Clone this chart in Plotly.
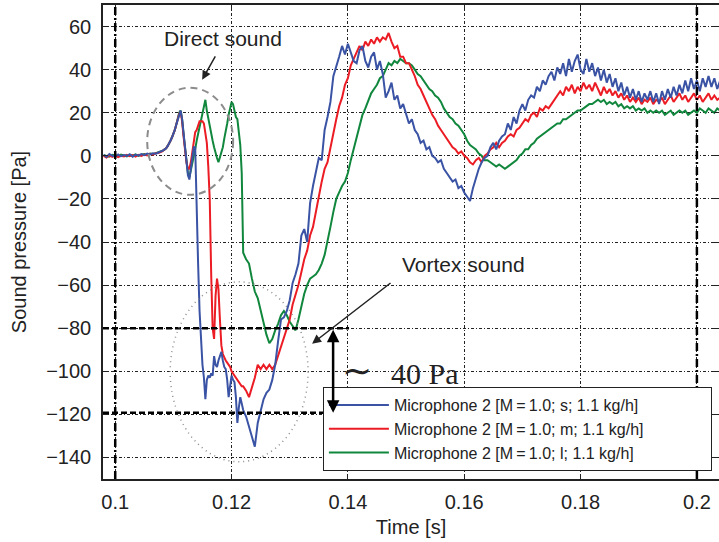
import numpy as np
import plotly.graph_objects as go

# ---------------- data (time in ms on three sampling segments) ----------------
seg_a_ms = np.arange(98.0, 108.0, 0.5)      # 20 samples
seg_b_ms = np.arange(108.0, 122.0, 0.25)    # 56 samples
seg_c_ms = np.arange(122.0, 204.25, 0.5)    # 165 samples
time_s = np.concatenate([seg_a_ms, seg_b_ms, seg_c_ms]) / 1000.0

blue_s = [
    0.5, -0.5, 0.8, 0, -0.3, 0.6, -0.2, 0.4, 0, 0.7,
    -0.4, 0.5, 0.2, 0.8, 0.3, 1.0, 0.6, 1.2, 1.0, 1.6,
    # 108 .. 121.75 (0.25 ms)
    2, 2.5, 3, 3.5, 4.5, 5.5, 7, 8.5,
    10, 12, 14.5, 17, 19.5, 21, 17, 10,
    3, -4, -9, -11, -6, 0, 4, 4,
    -30, -50, -72, -85, -97, -103, -113, -104,
    -102, -103, -101, -102, -93, -97, -98, -95,
    -93, -91, -95, -98, -99, -104, -112, -106,
    -102, -104, -105, -112, -124, -117, -112, -115,
    # 122 .. 204 (0.5 ms)
    -118, -121, -126, -131, -135, -124, -118, -113, -110, -108.5,
    -104, -97, -86, -76, -75, -72, -67, -59, -55, -50,
    -37, -34, -40, -22, -14, -8, -1, -2, 12, 18,
    25, 37, 41, 46, 51, 47, 52, 48, 44, 43,
    49, 51, 44, 41, 46, 48, 40, 44, 38, 27,
    30, 34, 26, 28, 22, 24, 19, 15, 17, 12,
    10, 6, 7, 3, 4, 0, -1, -3, -2, -6,
    -8, -10, -12, -11, -15, -14, -17, -19, -21, -15,
    -10, -6, -3, -1, 0, 4, 6, 3, 7, 9,
    10, 15, 12, 18, 15, 21, 24, 21, 26, 28,
    27, 32, 30, 35, 33, 37, 39, 35, 41, 38,
    43, 37, 45, 39, 44, 47, 40, 38, 45, 39,
    43, 37, 41, 35, 40, 34, 38, 32, 36, 30,
    34, 28, 32, 27, 31, 26, 30, 25, 29, 26,
    30, 25, 29, 24, 30, 26, 31, 27, 32, 28,
    33, 29, 35, 30, 36, 31, 35, 30, 36, 32,
    37, 32, 36, 31, 35,
]

red_m = [
    0, -0.8, 0.2, -0.5, 0.3, -0.6, 0, -0.3, 0.4, -0.2,
    0.3, -0.4, 0.5, 0, 0.6, 0.2, 0.9, 0.5, 1.2, 1.4,
    # 108 .. 121.75
    2, 2.5, 3, 3.5, 4.5, 5.5, 7, 8.5,
    10, 12, 14.5, 17, 19.5, 20.5, 16, 9,
    2, -3, -6, -6, -3, 2, 7, 11,
    12, 14, 16, 16, 16, 15, 11, 6,
    -5, -20, -55, -80, -85, -65, -57, -62,
    -76, -88, -92, -94, -95, -96, -97, -98,
    -100, -101, -102, -103, -104, -105, -106, -107,
    # 122 .. 204
    -107, -109, -112, -108, -103, -97, -99, -97, -99, -97,
    -99, -97, -93, -88, -84, -80, -76, -69, -65, -60,
    -54, -48, -44, -37, -33, -25, -19, -12, -6, -3,
    4, 10, 17, 23, 27, 33, 36, 42, 45, 48,
    51, 49, 53, 51, 54, 52, 55, 53, 55, 54,
    57, 53, 50, 51, 46, 46, 43, 43, 40, 37,
    33, 31, 28, 25, 22, 19, 17, 14, 12, 10,
    8, 6, 4, 3, 1, 2, 0, -1, -3, -4,
    -2, -1, -3, 0, 1, 3, 4, 6, 4, 6,
    7, 9, 10, 9, 12, 13, 15, 17, 16, 19,
    20, 18, 22, 21, 23, 22, 24, 26, 28, 30,
    28, 32, 30, 33, 29, 32, 30, 34, 31, 33,
    30, 34, 31, 28, 32, 29, 31, 28, 30, 27,
    29, 26, 28, 25, 27, 25, 27, 24, 26, 25,
    27, 24, 26, 25, 27, 24, 26, 28, 25, 27,
    29, 26, 28, 25, 27, 29, 26, 28, 25, 27,
    29, 26, 28, 26, 27,
]

green_l = [
    0.3, 0, -0.4, 0.5, 0.1, -0.2, 0.6, 0, -0.3, 0.4,
    0.1, 0.7, 0, 0.5, 0.8, 0.4, 1.1, 0.8, 1.3, 1.8,
    # 108 .. 121.75
    2, 2.5, 3, 3.5, 4.5, 5.5, 7, 8.5,
    10, 12, 14.5, 17, 20, 21, 17, 10,
    3, -3, -8, -10, -7, -4, 0, 3,
    7, 10, 13, 17, 20, 23, 26, 21,
    17, 13, 10, 7, 4, 1, -1, -3,
    -1, 1, 4, 8, 11, 15, 19, 22,
    25, 24, 20, 18, 17, 12, 5, -8,
    # 122 .. 204
    -45, -48, -50, -57, -63, -66, -72, -78, -83, -87,
    -85, -81, -78, -74, -72, -74, -77, -79, -81, -76,
    -70, -64, -60, -57, -56, -55, -53, -50, -46, -40,
    -33, -26, -20, -17, -14, -12, -8, -2, 3, 9,
    14, 19, 22, 26, 29, 31, 33, 36, 37, 40,
    43, 42, 44, 43, 45, 44, 43, 43, 42, 40,
    38, 37, 35, 33, 31, 30, 28, 27, 25, 22,
    20, 18, 17, 15, 14, 12, 10, 7, 5, 4,
    3, 1, 0, -2, -2, -3, -4, -5, -4, -5,
    -6, -5, -4, -3, -2, 0, 1, 3, 3, 5,
    6, 8, 9, 10, 11, 12, 13, 14, 15, 15,
    17, 17, 18, 19, 20, 21, 21, 22, 23, 24,
    24, 25, 26, 25, 26, 24, 25, 24, 25, 23,
    24, 22, 23, 22, 23, 21, 22, 21, 22, 20,
    21, 20, 21, 20, 21, 19, 20, 21, 19, 20,
    21, 20, 21, 19, 20, 21, 20, 22, 21, 20,
    22, 21, 20, 22, 21,
]

assert len(blue_s) == len(time_s), len(blue_s)
assert len(red_m) == len(time_s), len(red_m)
assert len(green_l) == len(time_s), len(green_l)

series_names = [
    "Microphone 2 [M\u2009=\u20091.0; s; 1.1 kg/h]",
    "Microphone 2 [M\u2009=\u20091.0; m; 1.1 kg/h]",
    "Microphone 2 [M\u2009=\u20091.0; l; 1.1 kg/h]",
]
series_colors = ["#3a53a4", "#ec1c24", "#11873d"]

x_tickvals = [0.1, 0.12, 0.14, 0.16, 0.18, 0.2]
x_ticktext = ["0.1", "0.12", "0.14", "0.16", "0.18", "0.2"]
y_tickvals = [-140, -120, -100, -80, -60, -40, -20, 0, 20, 40, 60]

# ---------------- figure ----------------
fig = go.Figure()
pad = "\u00a0" * 14
order = [2, 1, 0]  # draw green, red, blue (blue on top)
values = [blue_s, red_m, green_l]
for i in order:
    fig.add_trace(go.Scatter(
        x=time_s, y=values[i], mode="lines",
        name=series_names[i] + pad,
        line=dict(color=series_colors[i], width=2),
        legendrank=i + 1,
    ))

grid_dash = "3px,2px,1px,2px"
font_main = "Liberation Sans, Arial, sans-serif"

fig.update_layout(
    width=719, height=542,
    margin=dict(l=103, r=0, t=5, b=63, autoexpand=False),
    paper_bgcolor="white", plot_bgcolor="white",
    font=dict(family=font_main, size=20, color="#222"),
    showlegend=True,
    legend=dict(
        x=0.357, y=0.194, xanchor="left", yanchor="top",
        bgcolor="white", bordercolor="#222", borderwidth=1,
        font=dict(size=16, family=font_main, color="#222"),
        itemwidth=60, tracegroupgap=0,
    ),
    xaxis=dict(
        range=[0.0979, 0.2038], tickvals=x_tickvals, ticktext=x_ticktext,
        ticks="inside", ticklen=5, tickcolor="#222", tickwidth=1,
        showline=True, linecolor="#222", linewidth=1.5, mirror="ticks",
        showgrid=True, gridcolor="#222", gridwidth=1, griddash=grid_dash,
        zeroline=False,
        title=dict(text="Time [s]", standoff=8, font=dict(size=20)),
        tickfont=dict(size=20), ticklabelstandoff=4,
    ),
    yaxis=dict(
        range=[-150, 70], tickvals=y_tickvals,
        ticks="inside", ticklen=5, tickcolor="#222", tickwidth=1,
        showline=True, linecolor="#222", linewidth=1.5, mirror="ticks",
        showgrid=True, gridcolor="#222", gridwidth=1, griddash=grid_dash,
        zeroline=False,
        title=dict(text="Sound pressure [Pa]", standoff=14, font=dict(size=20)),
        tickfont=dict(size=20), ticklabelstandoff=6,
    ),
)

# vertical dash-dot markers at 0.1 s and 0.2 s
for xv in [0.1, 0.2]:
    fig.add_shape(type="line", xref="x", yref="paper", x0=xv, x1=xv, y0=0, y1=1,
                  line=dict(color="black", width=2.5, dash="8px,3px,2px,3px"))

# dashed level lines (-80 and -119 Pa)
for yv in [-80, -119.3]:
    fig.add_shape(type="line", xref="x", yref="y", x0=0.0979, x1=0.1402, y0=yv, y1=yv,
                  line=dict(color="black", width=2.5, dash="6px,3px"))

# ellipse around direct sound
fig.add_shape(type="circle", xref="x", yref="y", x0=0.1055, x1=0.12027, y0=-18.1, y1=31.6,
              line=dict(color="#8c8c8c", width=2, dash="7px,5px"))
# dotted circle around vortex sound
fig.add_shape(type="circle", xref="x", yref="y", x0=0.10945, x1=0.13316, y0=-142, y1=-58.5,
              line=dict(color="#8c8c8c", width=1.5, dash="1px,4px"))

# texts
fig.add_annotation(x=0.11847, y=54.3, text="Direct sound", showarrow=False,
                   font=dict(size=21, color="#222", family=font_main))
fig.add_annotation(x=0.15979, y=-50.6, text="Vortex sound", showarrow=False,
                   font=dict(size=21, color="#222", family=font_main))
fig.add_annotation(x=0.14158, y=-100, text="\u223c", showarrow=False,
                   font=dict(size=36, color="#222", family="Liberation Serif, serif"))
fig.add_annotation(x=0.15326, y=-101, text="40 Pa", showarrow=False,
                   font=dict(size=30, color="#222", family="Liberation Serif, serif"))

# arrows
fig.add_annotation(x=0.11495, y=35.3, ax=0.11735, ay=46.9, axref="x", ayref="y",
                   xref="x", yref="y", text="", showarrow=True,
                   arrowhead=2, arrowsize=1.2, arrowwidth=1.5, arrowcolor="#222")
fig.add_annotation(x=0.13385, y=-87.2, ax=0.14759, ay=-58.5, axref="x", ayref="y",
                   xref="x", yref="y", text="", showarrow=True,
                   arrowhead=2, arrowsize=1.2, arrowwidth=1.5, arrowcolor="#222")
fig.add_annotation(x=0.13746, y=-119.3, ax=0.13746, ay=-80, axref="x", ayref="y",
                   xref="x", yref="y", text="", showarrow=True, arrowside="end+start",
                   arrowhead=2, arrowsize=1, arrowwidth=2.5, arrowcolor="black")

fig.write_html(
    "out.html",
    config={"displayModeBar": False},
    post_script="document.body.style.margin='0';document.body.style.padding='0';"
                "document.body.style.overflow='hidden';",
)
